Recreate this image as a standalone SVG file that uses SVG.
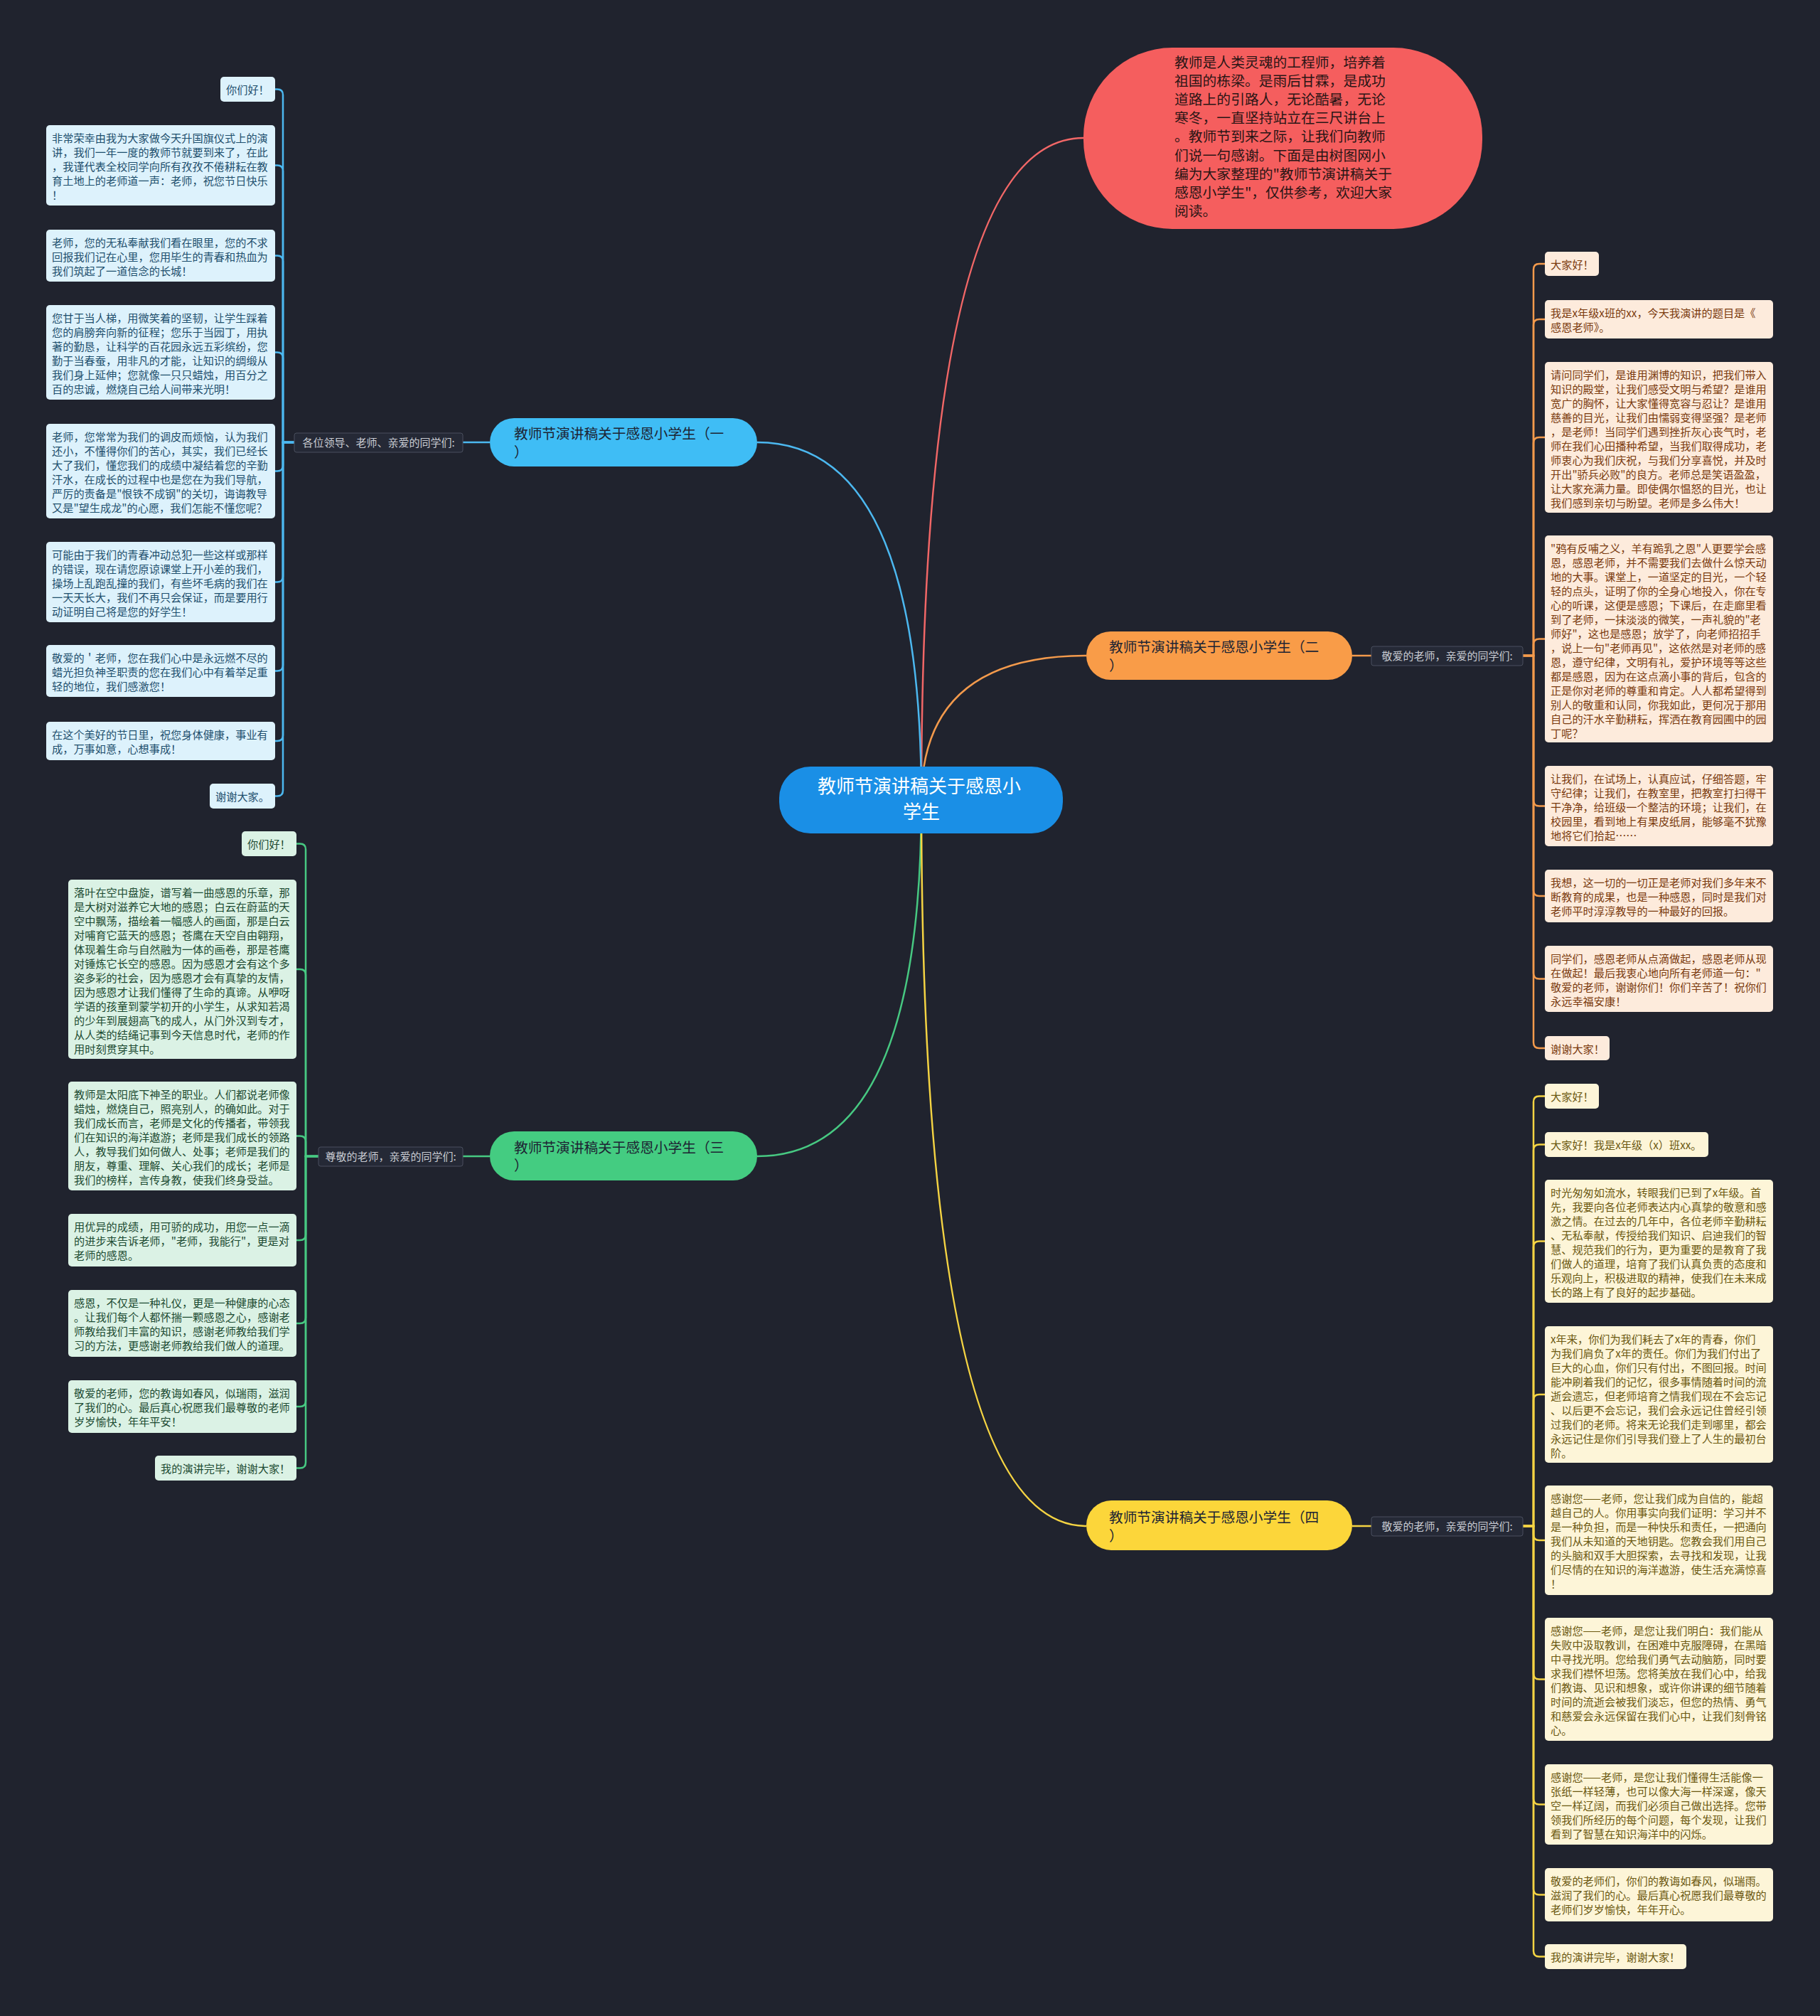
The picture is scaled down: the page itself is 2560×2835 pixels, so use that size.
<svg xmlns="http://www.w3.org/2000/svg" width="2560" height="2835" viewBox="0 0 2560 2835">
<style>
text{font-family:"Noto Sans CJK SC","Noto Sans",sans-serif;}
.lt{font-size:15.2px;}
.lb{fill:#ddf2fc;} .tb{fill:#1e4f6d;}
.lg{fill:#dbf2e5;} .tg{fill:#1c4a31;}
.lo{fill:#fdebdc;} .to{fill:#7a3a0e;}
.ly{fill:#fdf5d8;} .ty{fill:#6b5810;}
.lab{fill:#252936;stroke:#4a4f5e;stroke-width:1;}
.labt{font-size:15px;fill:#c9ccd3;}
.bt{font-size:19.7px;fill:#1d2433;}
.c{fill:none;stroke-width:2.5;}
.cb{stroke:#4cb8f0;} .cg{stroke:#47c982;} .co{stroke:#f39a4c;} .cy{stroke:#f5d443;} .cr{stroke:#f26767;}
</style>
<rect width="2560" height="2835" fill="#20232e"/>

<g id="connectors">
<path class="c cr" d="M1296 1125 Q1296 194 1524 194"/>
<path class="c cb" d="M1296 1125 Q1296 622 1065 622"/>
<path class="c co" d="M1296 1125 Q1296 922 1528 922"/>
<path class="c cg" d="M1296 1125 Q1296 1626 1065 1626"/>
<path class="c cy" d="M1296 1125 Q1296 2146 1528 2146"/>
<path class="c cb" d="M689 622 H651"/>
<path class="c co" d="M1902 922 H1929"/>
<path class="c cg" d="M689 1626 H651"/>
<path class="c cy" d="M1902 2146 H1929"/>
<g class="c cb">
<path d="M414 622 H398 V133.5 Q398 125.5 390 125.5 H387"/>
<path d="M414 622 H398 V240.5 Q398 232.5 390 232.5 H387"/>
<path d="M414 622 H398 V367.5 Q398 359.5 390 359.5 H387"/>
<path d="M414 622 H398 V503.5 Q398 495.5 390 495.5 H387"/>
<path d="M414 622 H398 V654.5 Q398 662.5 390 662.5 H387"/>
<path d="M414 622 H398 V810.5 Q398 818.5 390 818.5 H387"/>
<path d="M414 622 H398 V935.5 Q398 943.5 390 943.5 H387"/>
<path d="M414 622 H398 V1034 Q398 1042 390 1042 H387"/>
<path d="M414 622 H398 V1111.5 Q398 1119.5 390 1119.5 H387"/>
</g>
<g class="c cg">
<path d="M448 1626 H430 V1194.5 Q430 1186.5 422 1186.5 H417"/>
<path d="M448 1626 H430 V1371 Q430 1363 422 1363 H417"/>
<path d="M448 1626 H430 V1605.5 Q430 1597.5 422 1597.5 H417"/>
<path d="M448 1626 H430 V1736 Q430 1744 422 1744 H417"/>
<path d="M448 1626 H430 V1853 Q430 1861 422 1861 H417"/>
<path d="M448 1626 H430 V1970 Q430 1978 422 1978 H417"/>
<path d="M448 1626 H430 V2056.5 Q430 2064.5 422 2064.5 H417"/>
</g>
<g class="c co">
<path d="M2142 922 H2157 V379 Q2157 371 2165 371 H2173"/>
<path d="M2142 922 H2157 V457 Q2157 449 2165 449 H2173"/>
<path d="M2142 922 H2157 V623 Q2157 615 2165 615 H2173"/>
<path d="M2142 922 H2157 V906.5 Q2157 898.5 2165 898.5 H2173"/>
<path d="M2142 922 H2157 V1125.5 Q2157 1133.5 2165 1133.5 H2173"/>
<path d="M2142 922 H2157 V1252 Q2157 1260 2165 1260 H2173"/>
<path d="M2142 922 H2157 V1368.5 Q2157 1376.5 2165 1376.5 H2173"/>
<path d="M2142 922 H2157 V1466 Q2157 1474 2165 1474 H2173"/>
</g>
<g class="c cy">
<path d="M2142 2146 H2157 V1549.5 Q2157 1541.5 2165 1541.5 H2173"/>
<path d="M2142 2146 H2157 V1617.5 Q2157 1609.5 2165 1609.5 H2173"/>
<path d="M2142 2146 H2157 V1753.5 Q2157 1745.5 2165 1745.5 H2173"/>
<path d="M2142 2146 H2157 V1969 Q2157 1961 2165 1961 H2173"/>
<path d="M2142 2146 H2157 V2158 Q2157 2166 2165 2166 H2173"/>
<path d="M2142 2146 H2157 V2353.5 Q2157 2361.5 2165 2361.5 H2173"/>
<path d="M2142 2146 H2157 V2529.5 Q2157 2537.5 2165 2537.5 H2173"/>
<path d="M2142 2146 H2157 V2656.5 Q2157 2664.5 2165 2664.5 H2173"/>
<path d="M2142 2146 H2157 V2743.5 Q2157 2751.5 2165 2751.5 H2173"/>
</g>
</g>

<g id="intro">
<rect x="1524" y="67" width="561" height="255" rx="125" fill="#f55e5e"/>
<text font-size="19.8" fill="#2a1515">
<tspan x="1652" y="94.5">教师是人类灵魂的工程师，培养着</tspan>
<tspan x="1652" y="120.7">祖国的栋梁。是雨后甘霖，是成功</tspan>
<tspan x="1652" y="146.9">道路上的引路人，无论酷暑，无论</tspan>
<tspan x="1652" y="173.1">寒冬，一直坚持站立在三尺讲台上</tspan>
<tspan x="1652" y="199.3">。教师节到来之际，让我们向教师</tspan>
<tspan x="1652" y="225.5">们说一句感谢。下面是由树图网小</tspan>
<tspan x="1652" y="251.7">编为大家整理的"教师节演讲稿关于</tspan>
<tspan x="1652" y="277.9">感恩小学生"，仅供参考，欢迎大家</tspan>
<tspan x="1652" y="304.1">阅读。</tspan>
</text>
</g>

<g id="root">
<rect x="1096" y="1078" width="399" height="94" rx="44" fill="#1a8fe6"/>
<text font-size="26" fill="#ffffff" text-anchor="middle">
<tspan x="1296" y="1115">教师节演讲稿关于感恩小</tspan>
<tspan x="1296" y="1151">学生</tspan>
</text>
</g>

<g id="branch1">
<rect x="689" y="588" width="376" height="68" rx="34" fill="#3fbdf5"/>
<text class="bt"><tspan x="723" y="616.5">教师节演讲稿关于感恩小学生（一</tspan><tspan x="723" y="642.5">）</tspan></text>
</g>
<g id="branch2">
<rect x="1528" y="888" width="374" height="68" rx="34" fill="#f99c48"/>
<text class="bt"><tspan x="1560" y="916.5">教师节演讲稿关于感恩小学生（二</tspan><tspan x="1560" y="942.5">）</tspan></text>
</g>
<g id="branch3">
<rect x="689" y="1591" width="376" height="69" rx="34" fill="#44cc81"/>
<text class="bt"><tspan x="723" y="1620.5">教师节演讲稿关于感恩小学生（三</tspan><tspan x="723" y="1646">）</tspan></text>
</g>
<g id="branch4">
<rect x="1528" y="2110" width="374" height="70" rx="35" fill="#fcd63a"/>
<text class="bt"><tspan x="1560" y="2140.5">教师节演讲稿关于感恩小学生（四</tspan><tspan x="1560" y="2166.5">）</tspan></text>
</g>

<g id="label1"><rect class="lab" x="414" y="609" width="237" height="27" rx="3"/><text class="labt" x="532.5" y="628" text-anchor="middle">各位领导、老师、亲爱的同学们:</text></g>
<g id="label2"><rect class="lab" x="1929" y="909" width="213" height="27" rx="3"/><text class="labt" x="2035.5" y="928" text-anchor="middle">敬爱的老师，亲爱的同学们:</text></g>
<g id="label3"><rect class="lab" x="448" y="1613" width="203" height="27" rx="3"/><text class="labt" x="549.5" y="1632" text-anchor="middle">尊敬的老师，亲爱的同学们:</text></g>
<g id="label4"><rect class="lab" x="1929" y="2133" width="213" height="27" rx="3"/><text class="labt" x="2035.5" y="2152" text-anchor="middle">敬爱的老师，亲爱的同学们:</text></g>

<!-- blue leaves -->
<g id="b1a"><rect class="lb" x="310" y="108" width="77" height="35" rx="5"/><text class="lt tb" x="318" y="132">你们好！</text></g>
<g id="b1b"><rect class="lb" x="65" y="176" width="322" height="113" rx="5"/><text class="lt tb">
<tspan x="73" y="200">非常荣幸由我为大家做今天升国旗仪式上的演</tspan>
<tspan x="73" y="220">讲，我们一年一度的教师节就要到来了，在此</tspan>
<tspan x="73" y="240">，我谨代表全校同学向所有孜孜不倦耕耘在教</tspan>
<tspan x="73" y="260">育土地上的老师道一声：老师，祝您节日快乐</tspan>
<tspan x="73" y="280">！</tspan></text></g>
<g id="b1c"><rect class="lb" x="65" y="323" width="322" height="73" rx="5"/><text class="lt tb">
<tspan x="73" y="347">老师，您的无私奉献我们看在眼里，您的不求</tspan>
<tspan x="73" y="367">回报我们记在心里，您用毕生的青春和热血为</tspan>
<tspan x="73" y="387">我们筑起了一道信念的长城！</tspan></text></g>
<g id="b1d"><rect class="lb" x="65" y="429" width="322" height="133" rx="5"/><text class="lt tb">
<tspan x="73" y="453">您甘于当人梯，用微笑着的坚韧，让学生踩着</tspan>
<tspan x="73" y="473">您的肩膀奔向新的征程；您乐于当园丁，用执</tspan>
<tspan x="73" y="493">著的勤恳，让科学的百花园永远五彩缤纷，您</tspan>
<tspan x="73" y="513">勤于当春蚕，用非凡的才能，让知识的绸缎从</tspan>
<tspan x="73" y="533">我们身上延伸；您就像一只只蜡烛，用百分之</tspan>
<tspan x="73" y="553">百的忠诚，燃烧自己给人间带来光明！</tspan></text></g>
<g id="b1e"><rect class="lb" x="65" y="596" width="322" height="133" rx="5"/><text class="lt tb">
<tspan x="73" y="620">老师，您常常为我们的调皮而烦恼，认为我们</tspan>
<tspan x="73" y="640">还小，不懂得你们的苦心，其实，我们已经长</tspan>
<tspan x="73" y="660">大了我们，懂您我们的成绩中凝结着您的辛勤</tspan>
<tspan x="73" y="680">汗水，在成长的过程中也是您在为我们导航，</tspan>
<tspan x="73" y="700">严厉的责备是"恨铁不成钢"的关切，诲诲教导</tspan>
<tspan x="73" y="720">又是"望生成龙"的心愿，我们怎能不懂您呢？</tspan></text></g>
<g id="b1f"><rect class="lb" x="65" y="762" width="322" height="113" rx="5"/><text class="lt tb">
<tspan x="73" y="786">可能由于我们的青春冲动总犯一些这样或那样</tspan>
<tspan x="73" y="806">的错误，现在请您原谅课堂上开小差的我们，</tspan>
<tspan x="73" y="826">操场上乱跑乱撞的我们，有些坏毛病的我们在</tspan>
<tspan x="73" y="846">一天天长大，我们不再只会保证，而是要用行</tspan>
<tspan x="73" y="866">动证明自己将是您的好学生！</tspan></text></g>
<g id="b1g"><rect class="lb" x="65" y="907" width="322" height="73" rx="5"/><text class="lt tb">
<tspan x="73" y="931">敬爱的＇老师，您在我们心中是永远燃不尽的</tspan>
<tspan x="73" y="951">蜡光担负神圣职责的您在我们心中有着举足重</tspan>
<tspan x="73" y="971">轻的地位，我们感激您！</tspan></text></g>
<g id="b1h"><rect class="lb" x="65" y="1015" width="322" height="54" rx="5"/><text class="lt tb">
<tspan x="73" y="1039">在这个美好的节日里，祝您身体健康，事业有</tspan>
<tspan x="73" y="1059">成，万事如意，心想事成！</tspan></text></g>
<g id="b1i"><rect class="lb" x="295" y="1102" width="92" height="35" rx="5"/><text class="lt tb" x="303" y="1126">谢谢大家。</text></g>

<!-- green leaves -->
<g id="g3a"><rect class="lg" x="340" y="1169" width="77" height="35" rx="5"/><text class="lt tg" x="348" y="1193">你们好！</text></g>
<g id="g3b"><rect class="lg" x="96" y="1237" width="321" height="252" rx="5"/><text class="lt tg">
<tspan x="104" y="1261">落叶在空中盘旋，谱写着一曲感恩的乐章，那</tspan>
<tspan x="104" y="1281">是大树对滋养它大地的感恩；白云在蔚蓝的天</tspan>
<tspan x="104" y="1301">空中飘荡，描绘着一幅感人的画面，那是白云</tspan>
<tspan x="104" y="1321">对哺育它蓝天的感恩；苍鹰在天空自由翱翔，</tspan>
<tspan x="104" y="1341">体现着生命与自然融为一体的画卷，那是苍鹰</tspan>
<tspan x="104" y="1361">对锤炼它长空的感恩。因为感恩才会有这个多</tspan>
<tspan x="104" y="1381">姿多彩的社会，因为感恩才会有真挚的友情，</tspan>
<tspan x="104" y="1401">因为感恩才让我们懂得了生命的真谛。从咿呀</tspan>
<tspan x="104" y="1421">学语的孩童到蒙学初开的小学生，从求知若渴</tspan>
<tspan x="104" y="1441">的少年到展翅高飞的成人，从门外汉到专才，</tspan>
<tspan x="104" y="1461">从人类的结绳记事到今天信息时代，老师的作</tspan>
<tspan x="104" y="1481">用时刻贯穿其中。</tspan></text></g>
<g id="g3c"><rect class="lg" x="96" y="1521" width="321" height="153" rx="5"/><text class="lt tg">
<tspan x="104" y="1545">教师是太阳底下神圣的职业。人们都说老师像</tspan>
<tspan x="104" y="1565">蜡烛，燃烧自己，照亮别人，的确如此。对于</tspan>
<tspan x="104" y="1585">我们成长而言，老师是文化的传播者，带领我</tspan>
<tspan x="104" y="1605">们在知识的海洋遨游；老师是我们成长的领路</tspan>
<tspan x="104" y="1625">人，教导我们如何做人、处事；老师是我们的</tspan>
<tspan x="104" y="1645">朋友，尊重、理解、关心我们的成长；老师是</tspan>
<tspan x="104" y="1665">我们的榜样，言传身教，使我们终身受益。</tspan></text></g>
<g id="g3d"><rect class="lg" x="96" y="1707" width="321" height="74" rx="5"/><text class="lt tg">
<tspan x="104" y="1731">用优异的成绩，用可骄的成功，用您一点一滴</tspan>
<tspan x="104" y="1751">的进步来告诉老师，"老师，我能行"，更是对</tspan>
<tspan x="104" y="1771">老师的感恩。</tspan></text></g>
<g id="g3e"><rect class="lg" x="96" y="1814" width="321" height="94" rx="5"/><text class="lt tg">
<tspan x="104" y="1838">感恩，不仅是一种礼仪，更是一种健康的心态</tspan>
<tspan x="104" y="1858">。让我们每个人都怀揣一颗感恩之心，感谢老</tspan>
<tspan x="104" y="1878">师教给我们丰富的知识，感谢老师教给我们学</tspan>
<tspan x="104" y="1898">习的方法，更感谢老师教给我们做人的道理。</tspan></text></g>
<g id="g3f"><rect class="lg" x="96" y="1941" width="321" height="74" rx="5"/><text class="lt tg">
<tspan x="104" y="1965">敬爱的老师，您的教诲如春风，似瑞雨，滋润</tspan>
<tspan x="104" y="1985">了我们的心。最后真心祝愿我们最尊敬的老师</tspan>
<tspan x="104" y="2005">岁岁愉快，年年平安！</tspan></text></g>
<g id="g3g"><rect class="lg" x="218" y="2047" width="199" height="35" rx="5"/><text class="lt tg" x="226" y="2071">我的演讲完毕，谢谢大家！</text></g>

<!-- orange leaves -->
<g id="o2a"><rect class="lo" x="2173" y="354" width="76" height="34" rx="5"/><text class="lt to" x="2181" y="377.5">大家好！</text></g>
<g id="o2b"><rect class="lo" x="2173" y="422" width="321" height="54" rx="5"/><text class="lt to">
<tspan x="2181" y="446">我是x年级x班的xx，今天我演讲的题目是《</tspan>
<tspan x="2181" y="466">感恩老师》。</tspan></text></g>
<g id="o2c"><rect class="lo" x="2173" y="509" width="321" height="212" rx="5"/><text class="lt to">
<tspan x="2181" y="533">请问同学们，是谁用渊博的知识，把我们带入</tspan>
<tspan x="2181" y="553">知识的殿堂，让我们感受文明与希望？是谁用</tspan>
<tspan x="2181" y="573">宽广的胸怀，让大家懂得宽容与忍让？是谁用</tspan>
<tspan x="2181" y="593">慈善的目光，让我们由懦弱变得坚强？是老师</tspan>
<tspan x="2181" y="613">，是老师！当同学们遇到挫折灰心丧气时，老</tspan>
<tspan x="2181" y="633">师在我们心田播种希望，当我们取得成功，老</tspan>
<tspan x="2181" y="653">师衷心为我们庆祝，与我们分享喜悦，并及时</tspan>
<tspan x="2181" y="673">开出"骄兵必败"的良方。老师总是笑语盈盈，</tspan>
<tspan x="2181" y="693">让大家充满力量。即使偶尔愠怒的目光，也让</tspan>
<tspan x="2181" y="713">我们感到亲切与盼望。老师是多么伟大！</tspan></text></g>
<g id="o2d"><rect class="lo" x="2173" y="753" width="321" height="291" rx="5"/><text class="lt to">
<tspan x="2181" y="777">"鸦有反哺之义，羊有跪乳之恩"人更要学会感</tspan>
<tspan x="2181" y="797">恩，感恩老师，并不需要我们去做什么惊天动</tspan>
<tspan x="2181" y="817">地的大事。课堂上，一道坚定的目光，一个轻</tspan>
<tspan x="2181" y="837">轻的点头，证明了你的全身心地投入，你在专</tspan>
<tspan x="2181" y="857">心的听课，这便是感恩；下课后，在走廊里看</tspan>
<tspan x="2181" y="877">到了老师，一抹淡淡的微笑，一声礼貌的"老</tspan>
<tspan x="2181" y="897">师好"，这也是感恩；放学了，向老师招招手</tspan>
<tspan x="2181" y="917">，说上一句"老师再见"，这依然是对老师的感</tspan>
<tspan x="2181" y="937">恩，遵守纪律，文明有礼，爱护环境等等这些</tspan>
<tspan x="2181" y="957">都是感恩，因为在这点滴小事的背后，包含的</tspan>
<tspan x="2181" y="977">正是你对老师的尊重和肯定。人人都希望得到</tspan>
<tspan x="2181" y="997">别人的敬重和认同，你我如此，更何况于那用</tspan>
<tspan x="2181" y="1017">自己的汗水辛勤耕耘，挥洒在教育园圃中的园</tspan>
<tspan x="2181" y="1037">丁呢？</tspan></text></g>
<g id="o2e"><rect class="lo" x="2173" y="1077" width="321" height="113" rx="5"/><text class="lt to">
<tspan x="2181" y="1101">让我们，在试场上，认真应试，仔细答题，牢</tspan>
<tspan x="2181" y="1121">守纪律；让我们，在教室里，把教室打扫得干</tspan>
<tspan x="2181" y="1141">干净净，给班级一个整洁的环境；让我们，在</tspan>
<tspan x="2181" y="1161">校园里，看到地上有果皮纸屑，能够毫不犹豫</tspan>
<tspan x="2181" y="1181">地将它们拾起……</tspan></text></g>
<g id="o2f"><rect class="lo" x="2173" y="1223" width="321" height="74" rx="5"/><text class="lt to">
<tspan x="2181" y="1247">我想，这一切的一切正是老师对我们多年来不</tspan>
<tspan x="2181" y="1267">断教育的成果，也是一种感恩，同时是我们对</tspan>
<tspan x="2181" y="1287">老师平时淳淳教导的一种最好的回报。</tspan></text></g>
<g id="o2g"><rect class="lo" x="2173" y="1330" width="321" height="93" rx="5"/><text class="lt to">
<tspan x="2181" y="1354">同学们，感恩老师从点滴做起，感恩老师从现</tspan>
<tspan x="2181" y="1374">在做起！最后我衷心地向所有老师道一句："</tspan>
<tspan x="2181" y="1394">敬爱的老师，谢谢你们！你们辛苦了！祝你们</tspan>
<tspan x="2181" y="1414">永远幸福安康！</tspan></text></g>
<g id="o2h"><rect class="lo" x="2173" y="1457" width="91" height="34" rx="5"/><text class="lt to" x="2181" y="1480.5">谢谢大家！</text></g>

<!-- yellow leaves -->
<g id="y4a"><rect class="ly" x="2173" y="1524" width="76" height="35" rx="5"/><text class="lt ty" x="2181" y="1548">大家好！</text></g>
<g id="y4b"><rect class="ly" x="2173" y="1592" width="230" height="35" rx="5"/><text class="lt ty" x="2181" y="1616">大家好！我是x年级（x）班xx。</text></g>
<g id="y4c"><rect class="ly" x="2173" y="1659" width="321" height="173" rx="5"/><text class="lt ty">
<tspan x="2181" y="1683">时光匆匆如流水，转眼我们已到了x年级。首</tspan>
<tspan x="2181" y="1703">先，我要向各位老师表达内心真挚的敬意和感</tspan>
<tspan x="2181" y="1723">激之情。在过去的几年中，各位老师辛勤耕耘</tspan>
<tspan x="2181" y="1743">、无私奉献，传授给我们知识、启迪我们的智</tspan>
<tspan x="2181" y="1763">慧、规范我们的行为，更为重要的是教育了我</tspan>
<tspan x="2181" y="1783">们做人的道理，培育了我们认真负责的态度和</tspan>
<tspan x="2181" y="1803">乐观向上，积极进取的精神，使我们在未来成</tspan>
<tspan x="2181" y="1823">长的路上有了良好的起步基础。</tspan></text></g>
<g id="y4d"><rect class="ly" x="2173" y="1865" width="321" height="192" rx="5"/><text class="lt ty">
<tspan x="2181" y="1889">x年来，你们为我们耗去了x年的青春，你们</tspan>
<tspan x="2181" y="1909">为我们肩负了x年的责任。你们为我们付出了</tspan>
<tspan x="2181" y="1929">巨大的心血，你们只有付出，不图回报。时间</tspan>
<tspan x="2181" y="1949">能冲刷着我们的记忆，很多事情随着时间的流</tspan>
<tspan x="2181" y="1969">逝会遗忘，但老师培育之情我们现在不会忘记</tspan>
<tspan x="2181" y="1989">、以后更不会忘记，我们会永远记住曾经引领</tspan>
<tspan x="2181" y="2009">过我们的老师。将来无论我们走到哪里，都会</tspan>
<tspan x="2181" y="2029">永远记住是你们引导我们登上了人生的最初台</tspan>
<tspan x="2181" y="2049">阶。</tspan></text></g>
<g id="y4e"><rect class="ly" x="2173" y="2089" width="321" height="154" rx="5"/><text class="lt ty">
<tspan x="2181" y="2113">感谢您——老师，您让我们成为自信的，能超</tspan>
<tspan x="2181" y="2133">越自己的人。你用事实向我们证明：学习并不</tspan>
<tspan x="2181" y="2153">是一种负担，而是一种快乐和责任，一把通向</tspan>
<tspan x="2181" y="2173">我们从未知道的天地钥匙。您教会我们用自己</tspan>
<tspan x="2181" y="2193">的头脑和双手大胆探索，去寻找和发现，让我</tspan>
<tspan x="2181" y="2213">们尽情的在知识的海洋遨游，使生活充满惊喜</tspan>
<tspan x="2181" y="2233">！</tspan></text></g>
<g id="y4f"><rect class="ly" x="2173" y="2275" width="321" height="173" rx="5"/><text class="lt ty">
<tspan x="2181" y="2299">感谢您——老师，是您让我们明白：我们能从</tspan>
<tspan x="2181" y="2319">失败中汲取教训，在困难中克服障碍，在黑暗</tspan>
<tspan x="2181" y="2339">中寻找光明。您给我们勇气去动脑筋，同时要</tspan>
<tspan x="2181" y="2359">求我们襟怀坦荡。您将美放在我们心中，给我</tspan>
<tspan x="2181" y="2379">们教诲、见识和想象，或许你讲课的细节随着</tspan>
<tspan x="2181" y="2399">时间的流逝会被我们淡忘，但您的热情、勇气</tspan>
<tspan x="2181" y="2419">和慈爱会永远保留在我们心中，让我们刻骨铭</tspan>
<tspan x="2181" y="2439">心。</tspan></text></g>
<g id="y4g"><rect class="ly" x="2173" y="2481" width="321" height="113" rx="5"/><text class="lt ty">
<tspan x="2181" y="2505">感谢您——老师，是您让我们懂得生活能像一</tspan>
<tspan x="2181" y="2525">张纸一样轻薄，也可以像大海一样深邃，像天</tspan>
<tspan x="2181" y="2545">空一样辽阔，而我们必须自己做出选择。您带</tspan>
<tspan x="2181" y="2565">领我们所经历的每个问题，每个发现，让我们</tspan>
<tspan x="2181" y="2585">看到了智慧在知识海洋中的闪烁。</tspan></text></g>
<g id="y4h"><rect class="ly" x="2173" y="2627" width="321" height="75" rx="5"/><text class="lt ty">
<tspan x="2181" y="2651">敬爱的老师们，你们的教诲如春风，似瑞雨。</tspan>
<tspan x="2181" y="2671">滋润了我们的心。最后真心祝愿我们最尊敬的</tspan>
<tspan x="2181" y="2691">老师们岁岁愉快，年年开心。</tspan></text></g>
<g id="y4i"><rect class="ly" x="2173" y="2734" width="199" height="35" rx="5"/><text class="lt ty" x="2181" y="2758">我的演讲完毕，谢谢大家！</text></g>
</svg>
